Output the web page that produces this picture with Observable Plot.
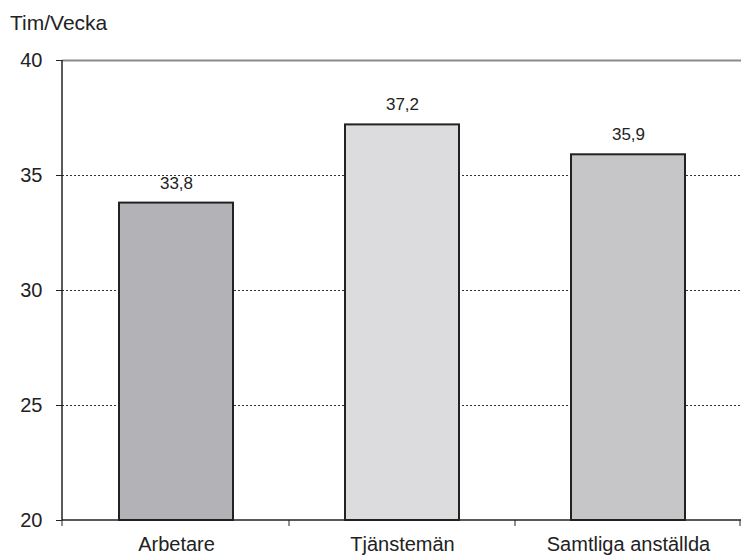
<!DOCTYPE html>
<html><head><meta charset="utf-8">
<script src="https://cdn.jsdelivr.net/npm/d3@7"></script>
<script src="https://cdn.jsdelivr.net/npm/@observablehq/plot@0.6"></script>
<style>
body{margin:0;background:#fff;font-family:"Liberation Sans",Arial,sans-serif;}
#wrap{position:relative;width:741px;height:557px;}
#title{position:absolute;left:10px;top:11px;font-size:21px;color:#222;line-height:24px;}
#chart{position:absolute;left:0;top:0;}
</style></head><body>
<div id="wrap"><div id="chart"></div><div id="title">Tim/Vecka</div></div>
<script>
const categories = ["Arbetare", "Tjänstemän", "Samtliga anställda"];
const values = [33.8, 37.2, 35.9];
const colors = ["#b3b3b7", "#dcdcde", "#c6c6c8"];
const yTicks = [20, 25, 30, 35, 40];

const data = categories.map((c, i) => ({cat: c, v: values[i], col: colors[i]}));
const fmt = v => v.toFixed(1).replace(".", ",");

const W = 741, H = 557, mL = 62, mR = 0, mT = 60, mB = 37;

// custom axis frame: left line + category boundary ticks on bottom axis
function axisFrame(index, scales, values, dim) {
  const g = d3.create("svg:g").attr("stroke", "#222").attr("stroke-width", 1.5);
  const x = scales.x, y = scales.y;
  const step = x.step ? x.step() : x.bandwidth();
  const y0 = y(20), y1 = y(40);
  g.append("line").attr("x1", dim.marginLeft).attr("x2", dim.marginLeft).attr("y1", y1).attr("y2", y0);
  g.append("line").attr("x1", dim.marginLeft).attr("x2", dim.width - dim.marginRight).attr("y1", y0).attr("y2", y0);
  const bounds = [dim.marginLeft].concat(categories.map(c => x(c) + x.bandwidth() / 2 + step / 2));
  bounds.forEach(b => {
    const bx = Math.min(b, dim.width - 1);
    g.append("line").attr("x1", bx).attr("x2", bx).attr("y1", y0).attr("y2", y0 + 6).attr("stroke-width", 1);
  });
  return g.node();
}

const chart = Plot.plot({
  width: W, height: H,
  marginLeft: mL, marginRight: mR, marginTop: mT, marginBottom: mB,
  style: {fontFamily: "Liberation Sans, Arial, sans-serif", fontSize: "20px", color: "#222", background: "#fff"},
  x: {domain: categories, paddingInner: 0.496, paddingOuter: 0.248, label: null},
  y: {domain: [20, 40], label: null},
  marks: [
    Plot.ruleY(yTicks.filter(t => t > 20 && t < 40), {stroke: "#333", strokeWidth: 1, strokeDasharray: "2,2"}),
    Plot.ruleY([40], {stroke: "#8a8a8a", strokeWidth: 2}),
    Plot.barY(data, {x: "cat", y1: 20, y2: "v", fill: "col", stroke: "#222", strokeWidth: 2}),
    Plot.text(data, {x: "cat", y: "v", text: d => fmt(d.v), dy: -20, fontSize: 17, fill: "#222"}),
    Plot.axisY({ticks: yTicks, tickSize: 6, tickPadding: 14, fontSize: 20, stroke: "#222", tickFormat: d => d}),
    Plot.axisX({tickSize: 0, tickPadding: 16, fontSize: 20}),
    Plot.ruleY([20], {render: axisFrame})
  ]
});
document.getElementById("chart").appendChild(chart);
</script></body></html>
